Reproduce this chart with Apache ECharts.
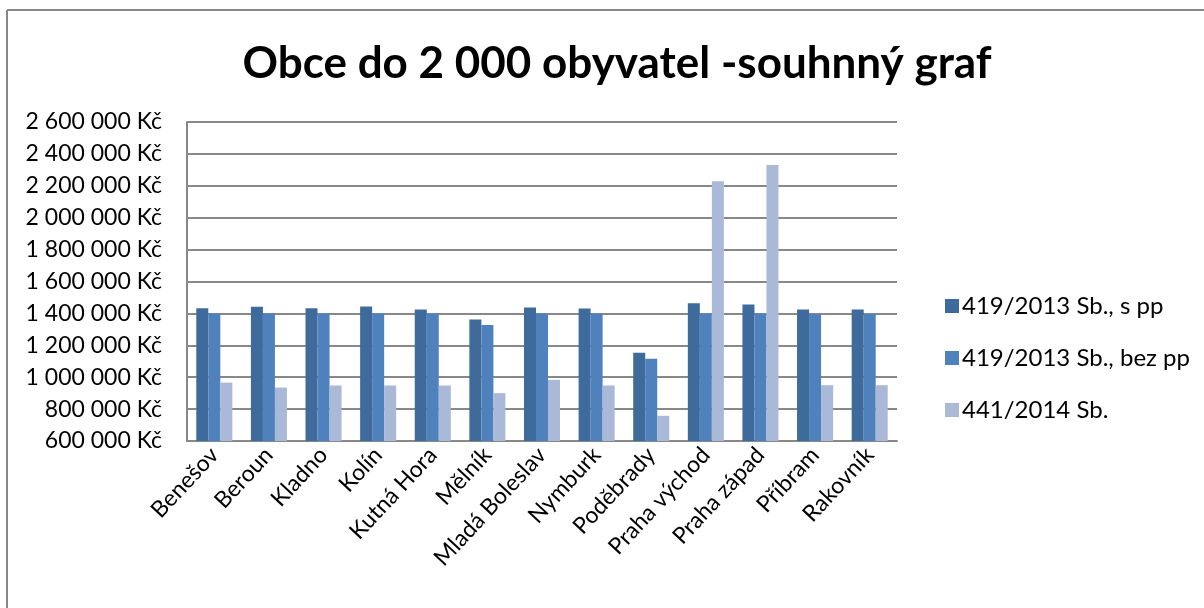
<!DOCTYPE html>
<html>
<head>
<meta charset="utf-8">
<script src="https://cdn.jsdelivr.net/npm/echarts@6/dist/echarts.min.js"></script>
<style>
  html, body { margin: 0; padding: 0; background: #fff; }
  #chart { width: 1204px; height: 608px; }
</style>
</head>
<body>
<div id="chart"></div>
<script>
var categories = ['Benešov', 'Beroun', 'Kladno', 'Kolín', 'Kutná Hora', 'Mělník', 'Mladá Boleslav',
  'Nymburk', 'Poděbrady', 'Praha východ', 'Praha západ', 'Příbram', 'Rakovník']
var seriesNames = ['419/2013 Sb., s pp', '419/2013 Sb., bez pp', '441/2014 Sb.']
var sPp = [1433000, 1441000, 1433000, 1444000, 1425000, 1362000, 1437000, 1431000, 1154000, 1464000, 1456000, 1425000, 1425000]
var bezPp = [1400000, 1400000, 1400000, 1400000, 1400000, 1327000, 1400000, 1400000, 1116000, 1400000, 1400000, 1397000, 1397000]
var sb2014 = [966000, 935000, 948000, 948000, 948000, 900000, 983000, 948000, 758000, 2229000, 2331000, 950000, 950000]

var font = 'Lato, "Open Sans", sans-serif'
var colors = ['#3e6a9c', '#4f81bd', '#aab9d7']

function kc (v) {
  return String(v).replace(/\B(?=(\d{3})+(?!\d))/g, ' ') + ' Kč'
}

var myChart = echarts.init(document.getElementById('chart'))
var option = {
  animation: false,
  color: colors,
  title: {
    text: 'Obce do 2 000 obyvatel -souhnný graf',
    left: 612,
    top: 37,
    textAlign: 'center',
    textStyle: { fontFamily: font, fontSize: 44, fontWeight: 'bold', color: '#000' }
  },
  graphic: [
    { type: 'line', shape: { x1: 7, y1: 10, x2: 1204, y2: 10 }, style: { stroke: '#888', lineWidth: 2 } },
    { type: 'line', shape: { x1: 7, y1: 10, x2: 7, y2: 608 }, style: { stroke: '#888', lineWidth: 2 } }
  ],
  legend: {
    orient: 'vertical',
    left: 940,
    top: 289,
    itemGap: 28,
    itemWidth: 14,
    itemHeight: 14,
    icon: 'rect',
    textStyle: { fontFamily: font, fontSize: 24, color: '#000', padding: [0, 0, 0, -2] },
    data: seriesNames
  },
  grid: { left: 187, right: 307, top: 122, bottom: 167 },
  xAxis: {
    type: 'category',
    data: categories,
    axisTick: { show: false },
    axisLine: { lineStyle: { color: '#888', width: 2 } },
    axisLabel: { rotate: 47, interval: 0, margin: 10, fontFamily: font, fontSize: 23, color: '#000' }
  },
  yAxis: {
    type: 'value',
    min: 600000,
    max: 2600000,
    interval: 200000,
    axisLine: { show: true, lineStyle: { color: '#888', width: 2 } },
    axisTick: { show: false },
    splitLine: { lineStyle: { color: '#888', width: 2 } },
    axisLabel: { margin: 25, fontFamily: font, fontSize: 23, color: '#000', formatter: kc }
  },
  series: [
    { name: seriesNames[0], type: 'bar', data: sPp, barGap: '0%', barCategoryGap: '34%' },
    { name: seriesNames[1], type: 'bar', data: bezPp, barGap: '0%', barCategoryGap: '34%' },
    { name: seriesNames[2], type: 'bar', data: sb2014, barGap: '0%', barCategoryGap: '34%' }
  ]
}
option && myChart.setOption(option)
window.addEventListener('resize', function () {
  myChart.resize()
})
</script>
</body>
</html>
